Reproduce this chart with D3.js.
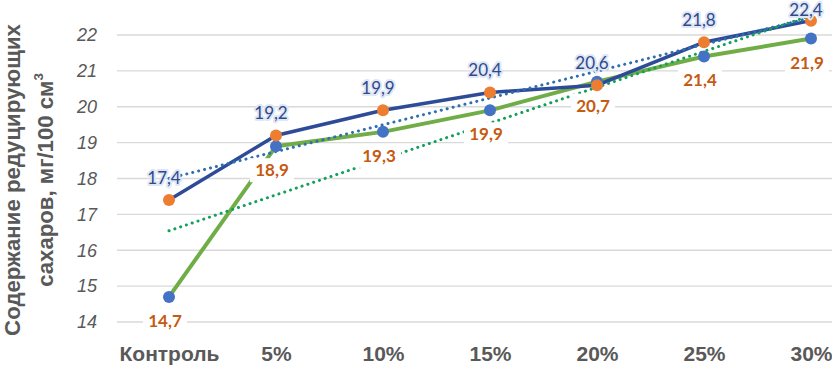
<!DOCTYPE html>
<html>
<head>
<meta charset="utf-8">
<script src="https://cdn.jsdelivr.net/npm/d3@7"></script>
<style>
  body { margin: 0; background: #fff; }
  svg { display: block; font-family: Lato, "Open Sans", sans-serif; }
</style>
</head>
<body>
<div id="chart"></div>
<script>
// chart data
const categories = ['Контроль', '5%', '10%', '15%', '20%', '25%', '30%'];
const seriesBlue = [17.4, 19.2, 19.9, 20.4, 20.6, 21.8, 22.4];
const seriesGreen = [14.7, 18.9, 19.3, 19.9, 20.7, 21.4, 21.9];
const yTicks = [14, 15, 16, 17, 18, 19, 20, 21, 22];

const width = 832, height = 366;

const svg = d3.select('#chart').append('svg')
    .attr('width', width)
    .attr('height', height);

// scales - last category sits near the right edge (chart is cropped there)
const x = d3.scalePoint()
    .domain(categories)
    .range([169, 811]);

const y = d3.scaleLinear()
    .domain([14, 22])
    .range([322, 35]);

// gridlines
svg.append('g')
    .selectAll('line')
    .data(yTicks)
    .enter().append('line')
    .attr('x1', 117)
    .attr('x2', width)
    .attr('y1', d => y(d))
    .attr('y2', d => y(d))
    .attr('stroke', '#d9d9d9')
    .attr('stroke-width', 1.3);

// y axis labels
const yAxis = svg.append('g')
    .attr('transform', 'translate(103,0)')
    .call(d3.axisLeft(y).tickValues(yTicks).tickSize(0).tickPadding(6).tickFormat(d3.format('d')));
yAxis.select('.domain').remove();
yAxis.selectAll('text')
    .style('font-size', '18px')
    .style('font-style', 'italic')
    .attr('fill', '#595959');

// x axis labels
const xAxis = svg.append('g')
    .attr('transform', 'translate(0,342)')
    .call(d3.axisBottom(x).tickSize(0).tickPadding(4));
xAxis.select('.domain').remove();
xAxis.selectAll('text')
    .style('font-size', '21px')
    .style('font-weight', 'bold')
    .attr('fill', '#595959');

// y title, sized so the first line spans the plot height like the original
const title = svg.append('text')
    .attr('transform', 'translate(0,180) rotate(-90)')
    .attr('text-anchor', 'middle')
    .style('font-family', '"Liberation Sans", Arial, sans-serif')
    .style('font-size', '20px')
    .style('font-weight', 'bold')
    .attr('fill', '#595959');
const t1 = title.append('tspan').attr('x', 0).attr('y', 20).text('Содержание редуцирующих');
const fs = 20 * 312 / t1.node().getComputedTextLength();
title.style('font-size', fs + 'px');
const t2 = title.append('tspan').attr('x', 0).attr('y', 53).text('сахаров, мг/100 см');
t2.append('tspan').attr('dy', -fs * 0.45).style('font-size', (fs * 0.6) + 'px').text('3');

const line = d3.line()
    .x((d, i) => x(categories[i]))
    .y(d => y(d));

// series lines
svg.append('path')
    .datum(seriesGreen)
    .attr('d', line)
    .attr('fill', 'none')
    .attr('stroke', '#70ad47')
    .attr('stroke-width', 4);

svg.append('path')
    .datum(seriesBlue)
    .attr('d', line)
    .attr('fill', 'none')
    .attr('stroke', '#2e4b98')
    .attr('stroke-width', 3.5);

// linear trendlines (least squares, like the spreadsheet trendline)
function trend(values) {
    const n = values.length;
    const mx = d3.mean(values, (d, i) => i);
    const my = d3.mean(values);
    const slope = d3.sum(values, (d, i) => (i - mx) * (d - my)) / d3.sum(values, (d, i) => (i - mx) * (i - mx));
    return [0, n - 1].map(i => ({ i: i, v: my + slope * (i - mx) }));
}

const trendLine = d3.line()
    .x(d => x(categories[d.i]))
    .y(d => y(d.v));

svg.append('path')
    .datum(trend(seriesBlue))
    .attr('d', trendLine)
    .attr('fill', 'none')
    .attr('stroke', '#2e6fb0')
    .attr('stroke-width', 3)
    .attr('stroke-linecap', 'round')
    .attr('stroke-dasharray', '0.1 6');

svg.append('path')
    .datum(trend(seriesGreen))
    .attr('d', trendLine)
    .attr('fill', 'none')
    .attr('stroke', '#13a05a')
    .attr('stroke-width', 3)
    .attr('stroke-linecap', 'round')
    .attr('stroke-dasharray', '0.1 6');

// markers
svg.append('g')
    .selectAll('circle')
    .data(seriesGreen)
    .enter().append('circle')
    .attr('cx', (d, i) => x(categories[i]))
    .attr('cy', d => y(d))
    .attr('r', 6)
    .attr('fill', '#4472c4');

svg.append('g')
    .selectAll('circle')
    .data(seriesBlue)
    .enter().append('circle')
    .attr('cx', (d, i) => x(categories[i]))
    .attr('cy', d => y(d))
    .attr('r', 6)
    .attr('fill', '#ed7d31');

const fmt = d => d3.format('.1f')(d).replace('.', ',');

// green series labels (below, with white box)
const gLab = svg.append('g')
    .selectAll('g')
    .data(seriesGreen)
    .enter().append('g')
    .attr('transform', (d, i) => `translate(${x(categories[i]) - 4},${y(d) + 24})`);
gLab.append('rect')
    .attr('x', -22).attr('y', -12)
    .attr('width', 44).attr('height', 24)
    .attr('fill', '#fff');
gLab.append('text')
    .attr('text-anchor', 'middle')
    .attr('dy', '0.35em')
    .style('font-size', '17px')
    .style('font-weight', 'bold')
    .attr('fill', '#c55a11')
    .text(fmt);

// blue series labels (above, with glow); kept inside the top edge
svg.append('g')
    .selectAll('text')
    .data(seriesBlue)
    .enter().append('text')
    .attr('x', (d, i) => x(categories[i]) - 5)
    .attr('y', d => Math.max(y(d) - 22, 10))
    .attr('dy', '0.35em')
    .attr('text-anchor', 'middle')
    .style('font-size', '17px')
    .attr('fill', '#2f4a8a')
    .attr('stroke', '#dfe7f6')
    .attr('stroke-width', 4)
    .attr('stroke-linejoin', 'round')
    .attr('paint-order', 'stroke')
    .text(fmt);
</script>
</body>
</html>
